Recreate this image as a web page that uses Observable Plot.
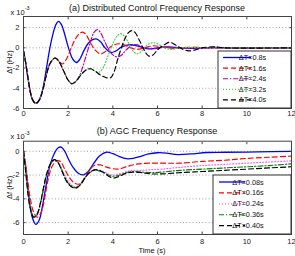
<!DOCTYPE html>
<html><head><meta charset="utf-8">
<script src="https://cdn.jsdelivr.net/npm/d3@7"></script>
<script src="https://cdn.jsdelivr.net/npm/@observablehq/plot@0.6"></script>
<style>
html,body{margin:0;padding:0;background:#fff;}
#chart{width:295px;height:256px;font-family:"Liberation Sans",Arial,sans-serif;}
#chart svg{display:block;}
</style></head><body><div id="chart"></div>
<script>
// ---------- shared ----------
const timeTicks = [0, 2, 4, 6, 8, 10, 12];

// ---------- (a) Distributed Control ----------
const topTitle = "(a) Distributed Control Frequency Response";
const topTicks = [-6, -4, -2, 0, 2];
const topLabels = ["ΔT=0.8s", "ΔT=1.6s", "ΔT=2.4s", "ΔT=3.2s", "ΔT=4.0s"];
const topColors = ["#0000ff", "#ff0000", "#b000b0", "#44cc44", "#000000"];
const topDash = [null, "5,3", "5,2,1.2,2", "1,2", "5,3"];

const topDT08 = [[0,-0.3],[0.1,-1.5],[0.2,-3.0],[0.3,-4.3],[0.4,-5.1],[0.55,-5.5],[0.7,-5.15],[0.85,-4.2],[1.0,-2.4],[1.15,-0.4],[1.3,1.2],[1.45,2.3],[1.57,2.62],[1.7,2.3],[1.85,1.3],[2.0,0.1],[2.2,-1.1],[2.36,-1.45],[2.5,-1.2],[2.7,-0.3],[2.9,0.45],[3.1,0.82],[3.26,0.88],[3.45,0.6],[3.65,0.0],[3.9,-0.45],[4.1,-0.35],[4.4,0.1],[4.7,0.3],[5.0,0.25],[5.3,0.05],[5.6,-0.1],[6.0,0.0],[6.5,0.1],[7.0,0.0],[7.5,-0.05],[8.5,0.05],[9.5,0],[12,0]];
const topDT16 = [[0,-0.3],[0.1,-1.5],[0.2,-3.0],[0.3,-4.3],[0.4,-5.1],[0.55,-5.5],[0.7,-5.2],[0.85,-4.3],[1.0,-2.9],[1.2,-1.5],[1.42,-1.0],[1.6,-1.35],[1.75,-1.6],[1.9,-1.2],[2.1,-0.2],[2.3,0.8],[2.5,1.4],[2.65,1.55],[2.8,1.3],[3.0,0.5],[3.2,-0.2],[3.45,-0.6],[3.65,-0.4],[3.9,0.1],[4.25,0.4],[4.5,0.3],[4.8,0.0],[5.1,-0.15],[5.4,0.0],[5.8,0.2],[6.2,0.1],[6.7,-0.05],[7.5,0.05],[8.5,0],[12,0]];
const topDT24 = [[0,-0.3],[0.1,-1.5],[0.2,-3.0],[0.3,-4.3],[0.4,-5.1],[0.55,-5.5],[0.7,-5.2],[0.85,-4.3],[1.0,-2.9],[1.2,-1.5],[1.42,-1.0],[1.6,-1.4],[1.8,-2.3],[2.0,-3.2],[2.17,-3.55],[2.35,-3.3],[2.5,-2.8],[2.65,-1.9],[2.8,-0.8],[3.0,0.6],[3.15,1.5],[3.3,1.8],[3.45,1.5],[3.6,0.8],[3.8,-0.1],[4.0,-0.7],[4.2,-0.9],[4.4,-0.7],[4.6,-0.2],[4.85,0.25],[5.1,0.3],[5.4,0.05],[5.8,-0.1],[6.3,0.1],[6.8,0.0],[12,0]];
const topDT32 = [[0,-0.3],[0.1,-1.5],[0.2,-3.0],[0.3,-4.3],[0.4,-5.1],[0.55,-5.5],[0.7,-5.2],[0.85,-4.3],[1.0,-2.9],[1.2,-1.5],[1.42,-1.0],[1.6,-1.4],[1.8,-2.3],[2.0,-3.2],[2.17,-3.55],[2.35,-3.3],[2.6,-2.6],[2.8,-2.2],[3.0,-2.07],[3.2,-2.3],[3.4,-2.4],[3.6,-1.8],[3.8,-0.7],[4.0,0.4],[4.2,1.2],[4.35,1.4],[4.5,1.2],[4.7,0.5],[4.9,-0.3],[5.1,-0.6],[5.3,-0.3],[5.55,0.3],[5.8,0.5],[6.0,0.4],[6.3,0.0],[6.6,-0.15],[7.0,0.0],[7.5,0.05],[8.5,0],[12,0]];
const topDT40 = [[0,-0.3],[0.1,-1.5],[0.2,-3.0],[0.3,-4.3],[0.4,-5.1],[0.55,-5.5],[0.7,-5.2],[0.85,-4.3],[1.0,-2.9],[1.2,-1.5],[1.42,-1.0],[1.6,-1.4],[1.8,-2.3],[2.0,-3.2],[2.17,-3.55],[2.35,-3.3],[2.6,-2.6],[2.8,-2.2],[3.0,-2.07],[3.2,-2.3],[3.45,-2.7],[3.7,-2.95],[3.9,-2.96],[4.05,-2.4],[4.25,-0.9],[4.5,0.7],[4.7,1.5],[4.85,1.7],[5.0,1.5],[5.2,0.7],[5.4,-0.2],[5.6,-0.8],[5.8,-0.7],[6.0,-0.2],[6.3,0.3],[6.55,0.55],[6.8,0.3],[7.1,-0.1],[7.4,-0.3],[7.7,-0.2],[8.0,0.0],[8.5,0.1],[9.0,0.0],[12,0]];

// ---------- (b) AGC ----------
const botTitle = "(b) AGC Frequency Response";
const botTicks = [-6, -4, -2, 0];
const botLabels = ["ΔT=0.08s", "ΔT=0.16s", "ΔT=0.24s", "ΔT=0.36s", "ΔT=0.40s"];
const botColors = ["#0000ff", "#ff0000", "#ff55ff", "#008000", "#000000"];
const botDash = [null, "5,3", "1,2", "5,2,1.2,2", "5,3"];

const botDT008 = [[0,0],[0.1,-1.3],[0.2,-3.0],[0.3,-4.6],[0.4,-5.6],[0.55,-6.15],[0.7,-5.8],[0.85,-4.6],[1.0,-3.0],[1.2,-1.1],[1.4,-0.1],[1.55,0.3],[1.69,0.35],[1.85,0.0],[2.0,-0.6],[2.2,-1.3],[2.45,-1.85],[2.69,-1.98],[2.9,-1.7],[3.15,-1.0],[3.4,-0.4],[3.71,-0.08],[4.0,-0.2],[4.3,-0.45],[4.6,-0.62],[4.9,-0.6],[5.2,-0.45],[5.6,-0.22],[6.0,-0.12],[6.4,-0.15],[6.9,-0.28],[7.5,-0.22],[8.2,-0.1],[9.0,-0.08],[10.5,-0.05],[12,0]];
const botDT016 = [[0,0],[0.1,-1.1],[0.2,-2.6],[0.3,-3.9],[0.45,-5.1],[0.62,-5.55],[0.8,-5.1],[0.95,-3.9],[1.1,-2.4],[1.3,-1.2],[1.5,-0.8],[1.65,-0.85],[1.85,-1.5],[2.05,-2.2],[2.3,-2.7],[2.5,-2.75],[2.7,-2.4],[2.95,-1.6],[3.2,-1.15],[3.45,-1.15],[3.75,-1.35],[4.2,-1.5],[4.6,-1.3],[5.0,-1.1],[5.6,-1.0],[6.4,-1.0],[7.0,-1.0],[8.0,-0.85],[9.0,-0.75],[10.0,-0.6],[11.0,-0.5],[12,-0.4]];
const botDT024 = [[0,0],[0.1,-1.4],[0.2,-3.2],[0.3,-4.5],[0.45,-5.45],[0.6,-5.4],[0.75,-4.6],[0.9,-3.3],[1.05,-2.0],[1.25,-1.0],[1.4,-0.75],[1.55,-0.9],[1.75,-1.6],[1.95,-2.4],[2.2,-2.9],[2.35,-3.0],[2.55,-2.75],[2.8,-2.1],[3.05,-1.65],[3.3,-1.55],[3.6,-1.7],[3.85,-1.95],[4.05,-2.0],[4.3,-1.9],[4.6,-1.7],[4.9,-1.6],[5.3,-1.6],[5.7,-1.55],[6.2,-1.5],[7.0,-1.35],[8.0,-1.2],[9.0,-1.1],[10.0,-1.0],[11.0,-0.9],[12,-0.8]];
const botDT036 = [[0,0],[0.1,-1.6],[0.2,-3.4],[0.3,-4.7],[0.45,-5.5],[0.6,-5.3],[0.75,-4.4],[0.9,-3.1],[1.05,-1.9],[1.25,-0.95],[1.4,-0.72],[1.55,-0.95],[1.75,-1.75],[1.95,-2.55],[2.2,-3.0],[2.35,-3.05],[2.55,-2.8],[2.8,-2.1],[3.05,-1.7],[3.3,-1.6],[3.6,-1.8],[3.85,-2.05],[4.05,-2.1],[4.3,-2.0],[4.6,-1.8],[4.9,-1.7],[5.3,-1.75],[5.7,-1.8],[6.2,-1.75],[7.0,-1.6],[8.0,-1.5],[9.0,-1.4],[10.0,-1.3],[11.0,-1.2],[12,-1.05]];
const botDT040 = [[0,0],[0.1,-1.8],[0.2,-3.6],[0.3,-4.8],[0.45,-5.55],[0.58,-5.4],[0.75,-4.4],[0.9,-3.0],[1.05,-1.8],[1.25,-0.9],[1.4,-0.7],[1.55,-0.95],[1.75,-1.8],[1.95,-2.6],[2.2,-3.05],[2.35,-3.1],[2.55,-2.8],[2.8,-2.1],[3.05,-1.65],[3.3,-1.55],[3.6,-1.8],[3.85,-2.15],[4.05,-2.25],[4.3,-2.1],[4.6,-1.85],[4.9,-1.75],[5.3,-1.8],[5.7,-1.9],[6.2,-1.9],[7.0,-1.8],[8.0,-1.7],[9.0,-1.6],[10.0,-1.5],[11.0,-1.4],[12,-1.3]];

const FONT = '"Liberation Sans", Arial, Helvetica, sans-serif';
const fmtY = d => (d < 0 ? "-" + Math.abs(d) : String(d));

function panel(o) {
  return Plot.plot({
    width: 295, height: o.height,
    marginLeft: 23, marginRight: 4, marginTop: o.marginTop, marginBottom: o.marginBottom,
    style: {fontFamily: FONT, fontSize: "7.5px", background: "#fff", color: "#222"},
    x: {domain: [0, 12], label: null},
    y: {domain: o.yDomain, label: null},
    marks: [
      Plot.gridY(o.yTicks, {stroke: "#8a8a8a", strokeOpacity: 1, strokeDasharray: "1,2.2", strokeWidth: 0.8}),
      ...o.series.map((s, i) => Plot.line(s, {
        x: d => d[0], y: d => d[1], stroke: o.colors[i], strokeDasharray: o.dashes[i],
        strokeWidth: i === 0 ? 1.3 : 1.15, curve: "catmull-rom", clip: true
      })),
      Plot.frame({stroke: "#444", strokeWidth: 1}),
      Plot.axisX(timeTicks, {anchor: "bottom", tickSize: -2.5, tickPadding: o.xPad, label: null, stroke: "#444"}),
      Plot.axisX(timeTicks, {anchor: "top", tickSize: -2.5, tickFormat: () => "", label: null, stroke: "#444"}),
      Plot.axisY(o.yTicks, {anchor: "left", tickSize: -2.5, tickPadding: 6.5, tickFormat: fmtY, label: null, stroke: "#444"}),
      Plot.axisY(o.yTicks, {anchor: "right", tickSize: -2.5, tickFormat: () => "", label: null, stroke: "#444"})
    ]
  });
}

function decorate(svg, o) {
  const sx = svg.scale("x"), sy = svg.scale("y");
  const [x0, x1] = sx.range;
  const [yb, yt] = sy.range;
  const g = d3.select(svg).append("g").attr("font-family", FONT).attr("fill", "#111");
  g.append("text").attr("x", (x0 + x1) / 2).attr("y", yt - o.titleGap)
    .attr("text-anchor", "middle").attr("font-size", "9px").text(o.title);
  const m = g.append("text").attr("x", x0 - 3).attr("y", yt - 1.5).attr("font-size", "7.5px");
  m.append("tspan").text("x 10");
  m.append("tspan").attr("font-size", "5.5px").attr("dy", "-4.5").text("-3");
  g.append("text").attr("transform", `translate(9.5,${(yb + yt) / 2}) rotate(-90)`)
    .attr("text-anchor", "middle").attr("dy", "0.35em").attr("font-size", "7.5px").text("Δf (Hz)");
  if (o.xLabel) {
    g.append("text").attr("x", (x0 + x1) / 2 - 5).attr("y", yb + 19)
      .attr("text-anchor", "middle").attr("font-size", "7.5px").text(o.xLabel);
  }
  const L = o.legend;
  const bx = x1 - L.w, by = yb - L.h;
  const lg = d3.select(svg).append("g");
  lg.append("rect").attr("x", bx).attr("y", by).attr("width", L.w).attr("height", L.h)
    .attr("fill", "#fff").attr("stroke", "#333").attr("stroke-width", 1);
  o.labels.forEach((lab, i) => {
    const y = by + L.first + i * L.step;
    lg.append("line").attr("x1", bx + L.s0).attr("x2", bx + L.s1).attr("y1", y).attr("y2", y)
      .attr("stroke", o.colors[i]).attr("stroke-width", i === 0 ? 1.3 : 1.15)
      .attr("stroke-dasharray", o.dashes[i]);
    lg.append("text").attr("x", bx + L.tx).attr("y", y).attr("dy", "0.35em")
      .attr("font-family", FONT).attr("font-size", "7.3px").attr("fill", "#111").text(lab);
  });
}

const chart = document.getElementById("chart");

const topOpts = {
  height: 125, marginTop: 16, marginBottom: 17, yDomain: [-6, 3.1], yTicks: topTicks,
  series: [topDT08, topDT16, topDT24, topDT32, topDT40],
  colors: topColors, dashes: topDash, labels: topLabels, title: topTitle, titleGap: 5.5, xPad: 5,
  legend: {w: 73, h: 57, first: 6.5, step: 10.6, s0: 5, s1: 33, tx: 34.5}
};
const botOpts = {
  height: 131, marginTop: 15.7, marginBottom: 22, yDomain: [-7, 0.85], yTicks: botTicks,
  series: [botDT008, botDT016, botDT024, botDT036, botDT040],
  colors: botColors, dashes: botDash, labels: botLabels, title: botTitle, titleGap: 6.5, xPad: 6.5,
  xLabel: "Time (s)",
  legend: {w: 78, h: 59, first: 7, step: 10.9, s0: 6, s1: 32, tx: 35}
};

const topSvg = panel(topOpts);
chart.appendChild(topSvg);
decorate(topSvg, topOpts);
const botSvg = panel(botOpts);
chart.appendChild(botSvg);
decorate(botSvg, botOpts);
</script>
</body></html>
